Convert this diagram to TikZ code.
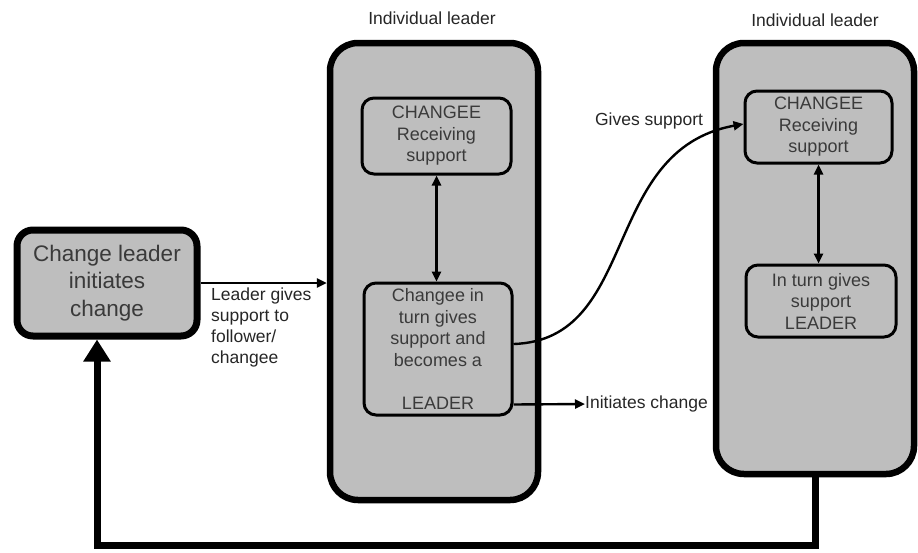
\documentclass[tikz,border=0pt]{standalone}
\usepackage{fontspec}
\setmainfont{Liberation Sans}
\usetikzlibrary{arrows.meta,calc}
\definecolor{boxgray}{HTML}{BEBEBE}
\definecolor{inktext}{HTML}{3A3A3A}
\tikzset{
  bigbox/.style={draw=black, fill=boxgray, line width=6.5pt, rounded corners=28pt},
  startbox/.style={draw=black, fill=boxgray, line width=7pt, rounded corners=16pt,
    text=inktext, align=center, font=\fontsize{22.5}{27.5}\selectfont},
  innerbox/.style={draw=black, fill=boxgray, line width=3pt, rounded corners=12pt,
    text=inktext, align=center, font=\fontsize{18}{21.5}\selectfont},
  lbl/.style={text=black!85, font=\fontsize{17.5}{21}\selectfont},
  conn/.style={line width=2.4pt, -{Triangle[length=10pt,width=9pt]}},
  dconn/.style={line width=2.4pt, {Triangle[length=10pt,width=9pt]}-{Triangle[length=10pt,width=9pt]}},
  feedback/.style={line width=7pt, -{Triangle[length=22pt,width=26pt]}}
}
\begin{document}
\begin{tikzpicture}[x=1pt,y=-1pt]
  \useasboundingbox (0,0) rectangle (918,552);

  % the initiating change leader
  \node[startbox, minimum width=180pt, minimum height=106pt] (start) at (107,283)
    {Change leader\\initiates\\change};

  % first individual leader and its two roles
  \node[bigbox, minimum width=208pt, minimum height=457pt] (lead1) at (434,271.5) {};
  \node[lbl] (lead1t) at (432,18) {Individual leader};
  \node[innerbox, minimum width=149pt, minimum height=76pt] (top1) at (436.5,136)
    {CHANGEE\\Receiving\\support};
  \node[innerbox, minimum width=148pt, minimum height=132pt] (bot1) at (438,349)
    {Changee in\\turn gives\\support and\\becomes a\\[21.5pt]LEADER};

  % second individual leader
  \node[bigbox, minimum width=198pt, minimum height=431pt] (lead2) at (815,258.5) {};
  \node[lbl] (lead2t) at (815,20) {Individual leader};
  \node[innerbox, minimum width=147pt, minimum height=72pt] (top2) at (818.5,127)
    {CHANGEE\\Receiving\\support};
  \node[innerbox, minimum width=150pt, minimum height=72pt] (bot2) at (821,301)
    {In turn gives\\support\\LEADER};

  % labels
  \node[lbl, anchor=north west, align=left, inner sep=0pt] (gives) at (211,288)
    {Leader gives\\support to\\follower/\\changee};
  \node[lbl] (gsup) at (649,121) {Gives support};
  \node[lbl, anchor=west, inner sep=0pt] (init) at (585,404) {Initiates change};

  % connectors
  \draw[conn] (start.east) -- (start.east -| lead1.west);
  \draw[dconn] (top1.south) -- (top1.south |- bot1.north);
  \draw[dconn] (top2.south) -- (top2.south |- bot2.north);
  \draw[conn] ($(bot1.east)+(0,-5)$) .. controls (640,340) and (600,150) .. ($(top2.west)+(0,-3)$);
  \draw[conn] ($(bot1.south east)+(0,-12)$) -- (init.west);

  % loop back to the change leader
  \coordinate (corner) at (97,545);
  \draw[feedback] (lead2.south) |- (corner) -- (corner |- start.south);
\end{tikzpicture}
\end{document}
